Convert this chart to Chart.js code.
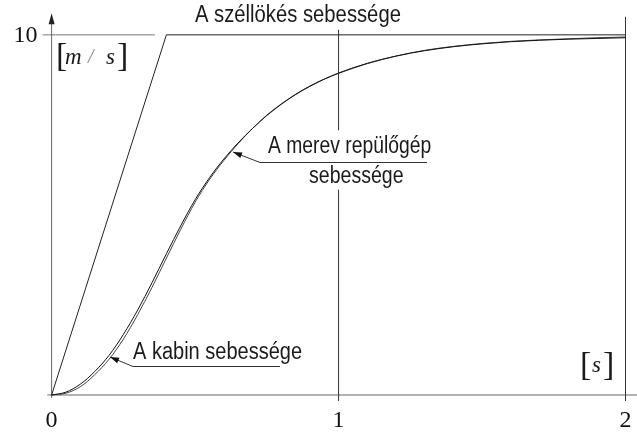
<!DOCTYPE html>
<html>
<head>
<meta charset="utf-8">
<script src="https://cdn.jsdelivr.net/npm/chart.js@4/dist/chart.umd.min.js"></script>
<style>
  html, body { margin: 0; padding: 0; background: #fff; }
  canvas { display: block; }
</style>
</head>
<body>
<canvas id="gust" width="637" height="432"></canvas>
<script>
// time [s] and speeds [m/s]
const times = [0, 0.05, 0.1, 0.15, 0.2, 0.25, 0.3, 0.35, 0.4, 0.45, 0.5, 0.55, 0.6, 0.65, 0.7, 0.75, 0.8, 0.85, 0.9, 0.95, 1.0, 1.1, 1.2, 1.3, 1.4, 1.5, 1.6, 1.7, 1.8, 1.9, 2.0];
const rigidSpeed = [0, 0.08, 0.3, 0.65, 1.1, 1.68, 2.36, 3.12, 3.92, 4.7, 5.42, 6.03, 6.55, 7.0, 7.4, 7.76, 8.07, 8.34, 8.57, 8.77, 8.94, 9.21, 9.41, 9.56, 9.67, 9.75, 9.81, 9.85, 9.88, 9.9, 9.92];
const cabinSpeed = [0, 0.05, 0.23, 0.56, 0.99, 1.55, 2.23, 2.99, 3.8, 4.6, 5.35, 5.98, 6.51, 6.98, 7.4, 7.77, 8.08, 8.35, 8.58, 8.77, 8.93, 9.2, 9.41, 9.57, 9.68, 9.76, 9.82, 9.86, 9.89, 9.92, 9.94];
const gustTimes = [0, 0.4, 2.0];
const gustSpeed = [0, 10, 10];
const xTicks = [0, 1, 2];
const xTickLabels = ['0', '1', '2'];
const yTicks = [10];
const yTickLabels = ['10'];

const toPoints = (xs, ys) => xs.map((x, i) => ({ x: x, y: ys[i] }));

function narrowText(ctx, text, x, y, size, sx) {
  ctx.save();
  ctx.translate(x, y);
  ctx.scale(sx, 1);
  ctx.font = size + 'px "Liberation Sans", Arial, sans-serif';
  ctx.textAlign = 'left';
  ctx.textBaseline = 'middle';
  ctx.fillText(text, 0, 0);
  ctx.restore();
}

function arrow(ctx, x0, y0, x1, y1) {
  ctx.beginPath();
  ctx.moveTo(x0, y0);
  ctx.lineTo(x1, y1);
  ctx.stroke();
  const a = Math.atan2(y1 - y0, x1 - x0);
  ctx.beginPath();
  ctx.moveTo(x1, y1);
  ctx.lineTo(x1 - 9 * Math.cos(a) + 3 * Math.sin(a), y1 - 9 * Math.sin(a) - 3 * Math.cos(a));
  ctx.lineTo(x1 - 9 * Math.cos(a) - 3 * Math.sin(a), y1 - 9 * Math.sin(a) + 3 * Math.cos(a));
  ctx.closePath();
  ctx.fill();
}

// axes, guide lines and tick labels under the curves
const axesPlugin = {
  id: 'axes',
  beforeDatasetsDraw(chart) {
    const { ctx, scales: { x, y } } = chart;
    const x0 = x.getPixelForValue(0);
    const y0 = y.getPixelForValue(0);
    ctx.save();
    ctx.lineWidth = 1;

    // y = 10 guide near the axis
    ctx.strokeStyle = '#777';
    ctx.beginPath();
    ctx.moveTo(x0 - 9, y.getPixelForValue(10));
    ctx.lineTo(x.getPixelForValue(0.36), y.getPixelForValue(10));
    ctx.stroke();

    // x axis
    ctx.strokeStyle = '#666';
    ctx.beginPath();
    ctx.moveTo(x.getPixelForValue(-0.015), y0);
    ctx.lineTo(x.right, y0);
    ctx.stroke();

    // y axis with arrow
    ctx.beginPath();
    ctx.moveTo(x0, y0 + 3);
    ctx.lineTo(x0, y.getPixelForValue(10.5));
    ctx.stroke();
    ctx.fillStyle = '#222';
    const tip = y.getPixelForValue(10.6);
    ctx.beginPath();
    ctx.moveTo(x0, tip);
    ctx.lineTo(x0 - 3, tip + 11);
    ctx.lineTo(x0 + 3, tip + 11);
    ctx.closePath();
    ctx.fill();

    // vertical lines at t = 1 and t = 2
    ctx.strokeStyle = '#333';
    const x1 = x.getPixelForValue(1);
    ctx.beginPath();
    ctx.moveTo(x1, y.getPixelForValue(10.14));
    ctx.lineTo(x1, y.getPixelForValue(7.35));
    ctx.moveTo(x1, y.getPixelForValue(5.7));
    ctx.lineTo(x1, y0 + 6);
    const x2 = x.getPixelForValue(2);
    ctx.moveTo(x2, y.getPixelForValue(10.5));
    ctx.lineTo(x2, y0 + 6);
    ctx.stroke();

    // tick labels
    ctx.fillStyle = '#111';
    ctx.font = '24px "Liberation Serif", "Times New Roman", serif';
    ctx.textBaseline = 'middle';
    ctx.textAlign = 'center';
    xTicks.forEach((v, i) => {
      ctx.fillText(xTickLabels[i], x.getPixelForValue(v), y0 + 26);
    });
    ctx.textAlign = 'right';
    yTicks.forEach((v, i) => {
      ctx.fillText(yTickLabels[i], x0 - 14, y.getPixelForValue(v) + 1);
    });
    ctx.restore();
  },
  afterDatasetsDraw(chart) {
    const { ctx } = chart;
    ctx.save();
    ctx.fillStyle = '#1a1a1a';
    ctx.strokeStyle = '#333';
    ctx.lineWidth = 1;

    // units
    ctx.textBaseline = 'middle';
    ctx.textAlign = 'left';
    ctx.font = '34px "Liberation Serif", serif';
    ctx.fillText('[', 56, 57);
    ctx.fillText(']', 117, 57);
    ctx.font = 'italic 23px "Liberation Serif", serif';
    ctx.fillText('m', 65, 58);
    ctx.fillText('s', 106, 58);
    ctx.fillStyle = '#888';
    ctx.font = 'italic 20px "Liberation Serif", serif';
    ctx.fillText('/', 88, 58);
    ctx.fillStyle = '#1a1a1a';
    ctx.font = '34px "Liberation Serif", serif';
    ctx.fillText('[', 580, 366);
    ctx.fillText(']', 603, 366);
    ctx.font = 'italic 23px "Liberation Serif", serif';
    ctx.fillText('s', 592, 366);

    // labels
    narrowText(ctx, 'A széllökés sebessége', 195, 16, 23, 0.88);
    narrowText(ctx, 'A merev repülőgép', 268, 147, 23, 0.84);
    narrowText(ctx, 'sebessége', 309, 177, 23, 0.85);
    narrowText(ctx, 'A kabin sebessége', 133, 353, 23, 0.87);

    ctx.beginPath();
    ctx.moveTo(427, 162.5);
    ctx.lineTo(260, 162.5);
    ctx.moveTo(280, 366.5);
    ctx.lineTo(133, 366.5);
    ctx.stroke();
    ctx.fillStyle = '#111';
    arrow(ctx, 260, 162.5, 233, 152);
    arrow(ctx, 133, 366.5, 110, 357);
    ctx.restore();
  }
};

const lineStyle = {
  showLine: true,
  pointRadius: 0,
  borderWidth: 1,
  fill: false,
  clip: false,
  cubicInterpolationMode: 'monotone'
};

new Chart(document.getElementById('gust').getContext('2d'), {
  type: 'scatter',
  data: {
    datasets: [
      Object.assign({ label: 'A széllökés sebessége', data: toPoints(gustTimes, gustSpeed), borderColor: '#222' }, lineStyle, { cubicInterpolationMode: 'default', tension: 0 }),
      Object.assign({ label: 'A merev repülőgép sebessége', data: toPoints(times, rigidSpeed), borderColor: '#111' }, lineStyle),
      Object.assign({ label: 'A kabin sebessége', data: toPoints(times, cabinSpeed), borderColor: '#444' }, lineStyle)
    ]
  },
  options: {
    responsive: false,
    animation: false,
    devicePixelRatio: 1,
    layout: { padding: { left: 43, right: 0, top: 10, bottom: 37 } },
    plugins: { legend: { display: false }, tooltip: { enabled: false } },
    scales: {
      x: { type: 'linear', min: -0.03, max: 2.04, display: false },
      y: { type: 'linear', min: 0, max: 10.69, display: false }
    }
  },
  plugins: [axesPlugin]
});
</script>
</body>
</html>
